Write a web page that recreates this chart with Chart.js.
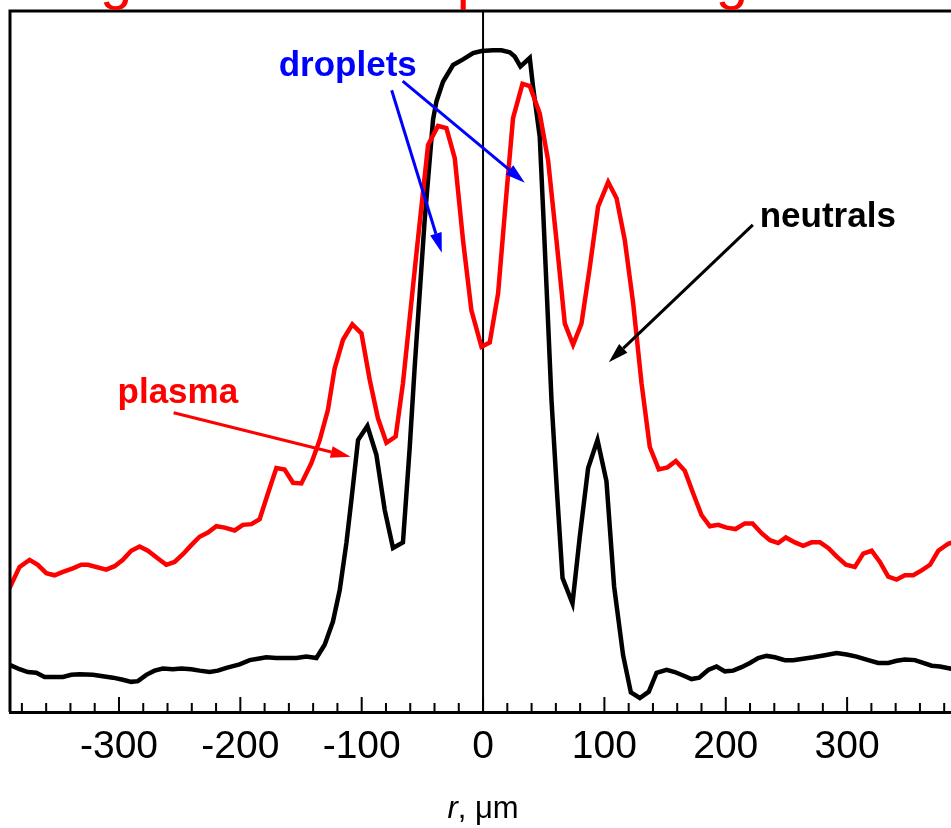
<!DOCTYPE html>
<html>
<head>
<meta charset="utf-8">
<script src="https://cdn.jsdelivr.net/npm/chart.js@4/dist/chart.umd.min.js"></script>
<style>
html, body { margin: 0; padding: 0; background: #fff; }
#wrap { width: 951px; height: 828px; position: relative; }
</style>
</head>
<body>
<div id="wrap"><canvas id="myChart"></canvas></div>
<script>
// radial position (um) and intensity (a.u.)
var rPlasma = [-395, -389.6, -381.9, -373.7, -366.9, -359.9, -353.1, -346.2, -338.0, -331.1, -325.6, -310.5, -303.6, -296.8, -289.9, -283.0, -276.2, -267.9, -261.0, -254.2, -247.3, -240.4, -233.6, -226.7, -219.8, -212.9, -204.7, -197.9, -190.9, -184.1, -177.2, -170.3, -163.5, -156.6, -149.7, -141.5, -134.6, -127.8, -122.3, -115.4, -107.7, -100.2, -93.4, -86.6, -79.6, -72.0, -66.0, -54.9, -45.3, -37.1, -30.2, -23.3, -16.5, -9.6, -1.3, 5.5, 12.4, 19.3, 24.7, 32.5, 38.5, 46.7, 53.6, 60.5, 67.4, 74.2, 81.1, 88.0, 94.8, 103.1, 110.0, 116.8, 123.7, 130.6, 137.4, 144.8, 152.0, 158.9, 166.3, 173.1, 180.0, 186.9, 193.7, 200.7, 208.1, 215.7, 222.1, 229.5, 236.4, 243.2, 249.5, 257.0, 263.8, 270.7, 277.6, 284.4, 291.3, 299.0, 306.4, 313.3, 320.2, 327.0, 333.9, 340.8, 347.6, 354.5, 361.4, 368.3, 375.1, 383.3, 392];
var plasma = [16.5, 17.9, 20.7, 21.7, 21.0, 19.8, 19.5, 20.0, 20.5, 21.0, 21.0, 20.3, 20.8, 21.7, 23.0, 23.6, 23.0, 21.9, 21.0, 21.4, 22.5, 23.8, 25.0, 25.6, 26.5, 26.3, 25.9, 26.7, 26.8, 27.5, 31.2, 34.8, 34.6, 32.7, 32.6, 35.5, 38.8, 43.1, 49.0, 53.1, 55.3, 54.0, 47.4, 41.9, 38.4, 39.3, 46.9, 65.4, 80.9, 83.6, 83.3, 79.0, 67.3, 57.3, 52.1, 52.7, 59.7, 74.0, 84.7, 89.6, 89.3, 85.4, 78.7, 67.3, 55.4, 52.4, 55.4, 63.5, 72.1, 75.6, 73.3, 67.3, 58.3, 46.9, 37.8, 34.6, 34.9, 35.8, 34.4, 31.2, 28.1, 26.5, 26.7, 26.3, 26.1, 26.9, 26.9, 25.5, 24.5, 24.1, 24.9, 24.2, 23.7, 24.2, 24.2, 23.4, 22.2, 21.0, 20.7, 22.6, 23.0, 21.4, 19.3, 18.9, 19.5, 19.5, 20.2, 21.0, 23.0, 24.0, 24.5];

var rNeutral = [-395, -389.6, -381.9, -375.1, -368.2, -361.3, -354.5, -346.2, -339.3, -332.5, -321.5, -313.3, -305.0, -296.8, -289.9, -284.4, -277.5, -270.7, -263.8, -255.6, -248.6, -240.4, -233.6, -225.3, -218.5, -211.5, -200.6, -192.3, -185.5, -178.6, -170.3, -162.1, -153.8, -145.6, -137.3, -130.5, -123.7, -118.1, -112.6, -108.5, -103.0, -95.3, -87.9, -81.0, -74.2, -66.0, -60.4, -56.3, -48.1, -41.2, -38.4, -33.0, -24.7, -16.5, -8.2, -1.3, 8.2, 15.2, 22.0, 26.1, 30.8, 38.5, 41.2, 46.7, 49.5, 52.3, 56.4, 61.0, 65.5, 73.7, 79.7, 86.6, 94.3, 101.7, 108.0, 115.4, 121.8, 129.2, 136.6, 143.0, 151.2, 158.0, 164.9, 171.8, 178.1, 185.5, 192.4, 199.3, 206.1, 213.0, 219.9, 226.7, 233.6, 240.5, 248.7, 255.6, 263.8, 272.1, 281.7, 291.3, 299.6, 307.8, 317.4, 325.6, 333.9, 340.8, 347.6, 355.9, 362.7, 369.7, 376.5, 384.7, 392];
var neutral = [7.0, 6.7, 6.1, 5.7, 5.6, 5.0, 5.0, 5.0, 5.3, 5.4, 5.3, 5.1, 4.9, 4.6, 4.3, 4.4, 5.3, 5.9, 6.2, 6.1, 6.2, 6.1, 5.9, 5.7, 5.9, 6.3, 6.8, 7.4, 7.6, 7.8, 7.7, 7.7, 7.7, 7.9, 7.7, 9.6, 12.9, 17.4, 24.1, 30.2, 38.8, 40.8, 36.7, 28.8, 23.4, 24.2, 37.8, 49.3, 70.2, 84.5, 87.1, 89.9, 92.3, 93.1, 94.0, 94.3, 94.4, 94.4, 94.1, 93.5, 92.1, 93.3, 89.2, 82.1, 71.6, 60.7, 44.5, 31.2, 19.1, 15.5, 25.0, 34.8, 38.8, 32.9, 17.9, 8.1, 2.8, 2.0, 2.9, 5.6, 6.0, 5.7, 5.2, 4.7, 4.9, 6.0, 6.5, 5.8, 5.9, 6.4, 7.0, 7.7, 8.0, 7.8, 7.4, 7.4, 7.6, 7.8, 8.1, 8.4, 8.2, 7.9, 7.4, 7.0, 7.0, 7.3, 7.5, 7.4, 7.0, 6.6, 6.5, 6.2, 6.1];

var xTickValues = [-300, -200, -100, 0, 100, 200, 300];

// labels and arrows, in data units
var noteLabels = [
    {text: 'droplets', color: '#0000ff', r: -168.4, y: 90.7},
    {text: 'neutrals', color: '#000000', r: 228.0, y: 69.2},
    {text: 'plasma', color: '#ff0000', r: -301.2, y: 44.1}
];
var noteArrows = [
    {color: '#0000ff', from: [-75.3, 88.7], to: [-34.0, 65.5]},
    {color: '#0000ff', from: [-66.2, 90.0], to: [34.4, 75.5]},
    {color: '#000000', from: [222.3, 69.5], to: [103.6, 49.9]},
    {color: '#ff0000', from: [-255.0, 42.7], to: [-109.1, 36.4]}
];

var FONT = "'Liberation Sans', Arial, Helvetica, sans-serif";

function toPoints(xs, ys){
    var pts = [];
    for(var i = 0; i < xs.length; i++){
        pts.push({x: xs[i], y: ys[i]});
    }
    return pts;
}

function drawArrow(ctx, x1, y1, x2, y2, color){
    var ang = Math.atan2(y2 - y1, x2 - x1);
    var len = 20, hw = 6;
    var bx = x2 - len * Math.cos(ang), by = y2 - len * Math.sin(ang);
    ctx.strokeStyle = color;
    ctx.fillStyle = color;
    ctx.lineWidth = 3;
    ctx.beginPath();
    ctx.moveTo(x1, y1);
    ctx.lineTo(bx, by);
    ctx.stroke();
    ctx.beginPath();
    ctx.moveTo(x2, y2);
    ctx.lineTo(bx + hw * Math.sin(ang), by - hw * Math.cos(ang));
    ctx.lineTo(bx - hw * Math.sin(ang), by + hw * Math.cos(ang));
    ctx.closePath();
    ctx.fill();
}

var framePlugin = {
    id: 'frame',
    beforeDatasetsDraw: function(chart){
        var ctx = chart.ctx, a = chart.chartArea, x = chart.scales.x;
        var p0 = x.getPixelForValue(0);
        ctx.save();
        ctx.strokeStyle = '#000';
        ctx.lineWidth = 2;
        ctx.beginPath();
        ctx.moveTo(p0, a.top);
        ctx.lineTo(p0, a.bottom);
        ctx.stroke();
        ctx.restore();
    },
    afterDraw: function(chart){
        var ctx = chart.ctx, a = chart.chartArea, x = chart.scales.x, y = chart.scales.y;
        ctx.save();

        // frame: left and top
        ctx.strokeStyle = '#000';
        ctx.lineWidth = 3;
        ctx.beginPath();
        ctx.moveTo(a.left, a.bottom);
        ctx.lineTo(a.left, a.top);
        ctx.lineTo(a.right + 2, a.top);
        ctx.stroke();

        // inward ticks
        ctx.lineWidth = 2;
        ctx.beginPath();
        for(var v = -380; v <= 380; v += 20){
            var px = x.getPixelForValue(v);
            var len = (v % 100 === 0) ? 15 : 9;
            ctx.moveTo(px, a.bottom);
            ctx.lineTo(px, a.bottom - len);
        }
        ctx.stroke();

        // notes
        for(var i = 0; i < noteArrows.length; i++){
            var ar = noteArrows[i];
            drawArrow(ctx,
                x.getPixelForValue(ar.from[0]), y.getPixelForValue(ar.from[1]),
                x.getPixelForValue(ar.to[0]), y.getPixelForValue(ar.to[1]), ar.color);
        }
        ctx.font = 'bold 35px ' + FONT;
        ctx.textAlign = 'left';
        ctx.textBaseline = 'alphabetic';
        for(var j = 0; j < noteLabels.length; j++){
            var nl = noteLabels[j];
            ctx.fillStyle = nl.color;
            ctx.fillText(nl.text, x.getPixelForValue(nl.r), y.getPixelForValue(nl.y));
        }

        // axis title: r, um
        var cx = x.getPixelForValue(0);
        ctx.fillStyle = '#000';
        ctx.font = 'italic 31px ' + FONT;
        var w1 = ctx.measureText('r').width;
        ctx.font = '31px ' + FONT;
        var w2 = ctx.measureText(', \u03bcm').width;
        var sx = cx - (w1 + w2) / 2;
        ctx.font = 'italic 31px ' + FONT;
        ctx.fillText('r', sx, 818);
        ctx.font = '31px ' + FONT;
        ctx.fillText(', \u03bcm', sx + w1, 818);

        // clipped heading above the frame
        ctx.fillStyle = '#ff0000';
        ctx.font = '58px ' + FONT;
        ctx.textAlign = 'center';
        ctx.fillText('g', x.getPixelForValue(-302.4), -2);
        ctx.fillText('g', x.getPixelForValue(205.0), -2);
        ctx.textAlign = 'left';
        ctx.fillText('p', x.getPixelForValue(-18.4) - 4, -2);

        ctx.restore();
    }
};

const data = {
    datasets: [
        {
            label: 'plasma',
            data: toPoints(rPlasma, plasma),
            borderColor: '#ff0000',
            backgroundColor: '#ff0000',
            borderWidth: 4.5,
            pointRadius: 0,
            showLine: true,
            tension: 0,
            order: 0
        },
        {
            label: 'neutrals',
            data: toPoints(rNeutral, neutral),
            borderColor: '#000000',
            backgroundColor: '#000000',
            borderWidth: 4.5,
            pointRadius: 0,
            showLine: true,
            tension: 0,
            order: 1
        }
    ]
};

const config = {
    type: 'scatter',
    data: data,
    plugins: [framePlugin],
    options: {
        responsive: true,
        maintainAspectRatio: false,
        animation: false,
        layout: { padding: { left: 10, top: 11, right: 0, bottom: 0 } },
        plugins: {
            legend: { display: false },
            tooltip: { enabled: false }
        },
        scales: {
            x: {
                type: 'linear',
                min: -389.8,
                max: 385.6,
                afterBuildTicks: function(scale){
                    scale.ticks = xTickValues.map(function(v){ return {value: v}; });
                },
                afterFit: function(scale){
                    scale.height = 116;
                },
                grid: { display: false, drawTicks: false },
                border: { display: true, color: '#000', width: 3 },
                ticks: {
                    color: '#000',
                    padding: 12,
                    maxRotation: 0,
                    autoSkip: false,
                    font: { family: FONT, size: 39 }
                }
            },
            y: {
                type: 'linear',
                display: false,
                min: 0,
                max: 100
            }
        }
    }
};

document.addEventListener('DOMContentLoaded', function(){
    new Chart(document.getElementById('myChart'), config);
});
</script>
</body>
</html>
